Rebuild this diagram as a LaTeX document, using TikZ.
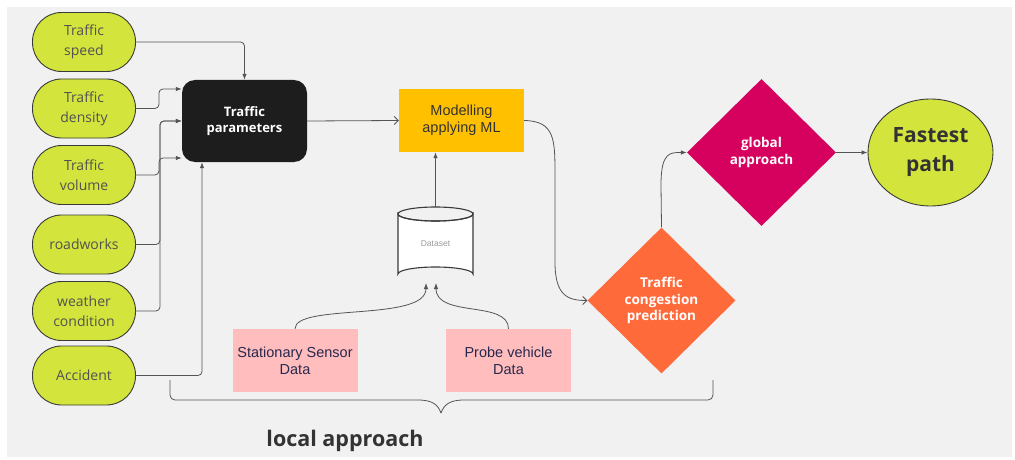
\documentclass[tikz,border=0pt]{standalone}
\usepackage{fontspec}
\setmainfont{Open Sans}
\newfontfamily\arialf{Liberation Sans}
\usetikzlibrary{shapes.geometric,arrows.meta}
\definecolor{bgc}{HTML}{F1F1F1}
\definecolor{pillc}{HTML}{D3E43C}
\definecolor{edgec}{HTML}{3A3A3A}
\definecolor{blackc}{HTML}{1D1D1D}
\definecolor{yelc}{HTML}{FFC000}
\definecolor{pinkc}{HTML}{FFBDBD}
\definecolor{orc}{HTML}{FF6A3B}
\definecolor{magc}{HTML}{D6005F}
\definecolor{linec}{HTML}{555555}
\definecolor{txtc}{HTML}{333333}
\definecolor{navyc}{HTML}{28284E}
\tikzset{
  pill/.style={rectangle, rounded corners=29pt, draw=edgec, line width=0.9pt, fill=pillc,
    minimum width=103pt, minimum height=59pt, align=center, text=txtc!85,
    font=\fontsize{14}{20}\selectfont, inner sep=0pt},
  conn/.style={draw=linec, line width=0.8pt},
  arr/.style={conn, -{Latex[length=6pt,width=4.5pt]}},
  oarr/.style={conn, -{Straight Barb[length=4pt,width=8pt]}},
  pinkbox/.style={rectangle, fill=pinkc, minimum width=125pt, minimum height=63pt,
    align=center, text=navyc, font=\arialf\fontsize{14.5}{17}\selectfont, inner sep=0pt},
  dia/.style={diamond, aspect=1, inner sep=0pt, align=center, text=white,
    font=\bfseries\fontsize{13.5}{16.5}\selectfont}
}
\begin{document}
\begin{tikzpicture}[x=1pt,y=-1pt]
\useasboundingbox (0,0) rectangle (1015,460);
\fill[bgc] (7,7) rectangle (1012,457);

% left pills
\node[pill] (speed) at (84,42) {Traffic\\speed};
\node[pill] (density) at (84,108.5) {Traffic\\density};
\node[pill] (volume) at (84,175) {Traffic\\volume};
\node[pill] (roadworks) at (84,244.5) {roadworks};
\node[pill] (weather) at (84,311) {weather\\condition};
\node[pill] (accident) at (84,375.5) {Accident};

% traffic parameters
\node[rectangle, rounded corners=13pt, fill=blackc, minimum width=125pt, minimum height=82pt,
  align=center, text=white, font=\bfseries\fontsize{13}{16}\selectfont] (params) at (244.5,121) {Traffic\\parameters};

% modelling
\node[rectangle, fill=yelc, minimum width=125pt, minimum height=63pt, align=center, text=txtc,
  font=\arialf\fontsize{14.5}{17}\selectfont] (model) at (461.5,120.5) {Modelling\\applying ML};

% dataset cylinder
\node[rectangle, minimum width=75pt, minimum height=74pt, inner sep=0pt] (dataset) at (435.5,244) {};
\begin{scope}[line width=1.1pt]
  \path[fill=white, draw=edgec] (398,214) -- (398,274) arc[start angle=180, end angle=360, x radius=37.5pt, y radius=-7pt] -- (473,214) arc[start angle=0, end angle=180, x radius=37.5pt, y radius=-7pt] -- cycle;
  \draw[draw=edgec] (435.5,214) ellipse[x radius=37.5pt, y radius=7pt];
\end{scope}
\node[text=black!40, font=\arialf\fontsize{8.5}{10}\selectfont] (dslabel) at (dataset.center) {Dataset};
\coordinate (dsl) at (426,283);
\coordinate (dsr) at (436,283);

% pink boxes
\node[pinkbox] (stat) at (295,360.5) {Stationary Sensor\\Data};
\node[pinkbox] (probe) at (508.5,360.5) {Probe vehicle\\Data};

% diamonds
\node[dia, fill=orc, minimum width=148pt, minimum height=146pt] (cong) at (661.5,300.5) {Traffic\\congestion\\prediction};
\node[dia, fill=magc, minimum width=149pt, minimum height=147pt] (global) at (761.5,152.5) {global\\approach};

% fastest path
\node[ellipse, draw=edgec, line width=0.9pt, fill=pillc, minimum width=125pt, minimum height=107pt,
  align=center, text=txtc, inner sep=0pt, font=\bfseries\fontsize{21}{29}\selectfont] (fast) at (930.5,152.5) {Fastest\\path};

% connectors left
\draw[arr, rounded corners=4pt] (speed.east) -| (params.north);
\draw[arr, rounded corners=4pt] (density.east) -- ++(23,0) |- ([yshift=32pt]params.west);
\draw[arr, rounded corners=4pt] (volume.east) -- ++(23,0) |- ([yshift=-37pt]params.west);
\draw[arr, rounded corners=4pt] (roadworks.east) -- ++(24,0) |- (params.west);
\draw[arr, rounded corners=4pt] (weather.east) -- ++(24,0) |- (params.west);
\draw[arr, rounded corners=4pt] (accident.east) -| ([xshift=-42.5pt]params.south);

\draw[oarr] (params.east) -- (model.west);
\draw[arr] (dataset.north |- 0,207) -- (model.south -| dataset.north);
\draw[arr] (stat.north) .. controls (295,303) and (426,322) .. (dsl);
\draw[arr] (probe.north) .. controls (508.5,300) and (436,318) .. (dsr);
\draw[oarr] (model.east) .. controls (555,121) and (555,140) .. (555,175) -- (555,262)
  .. controls (555,296) and (568,300.5) .. (cong.west);
\draw[arr] (cong.north) -- (661,185) .. controls (661,152) and (670,152.5) .. (global.west);
\draw[arr] (global.east) -- (fast.west);

% brace
\coordinate (bl) at (170,380);
\coordinate (br) at (713,380);
\coordinate (bt) at (441,413);
\draw[conn, rounded corners=5pt] (bl) -- (170,400) -- (418,400);
\draw[conn] (418,400) .. controls (433,400) and (438,405) .. (bt);
\draw[conn] (bt) .. controls (444,405) and (449,400) .. (464,400);
\draw[conn, rounded corners=5pt] (464,400) -- (713,400) -- (br);
\node[text=txtc, font=\bfseries\fontsize{21.5}{25}\selectfont] (local) at (345,441) {local approach};
\end{tikzpicture}
\end{document}
